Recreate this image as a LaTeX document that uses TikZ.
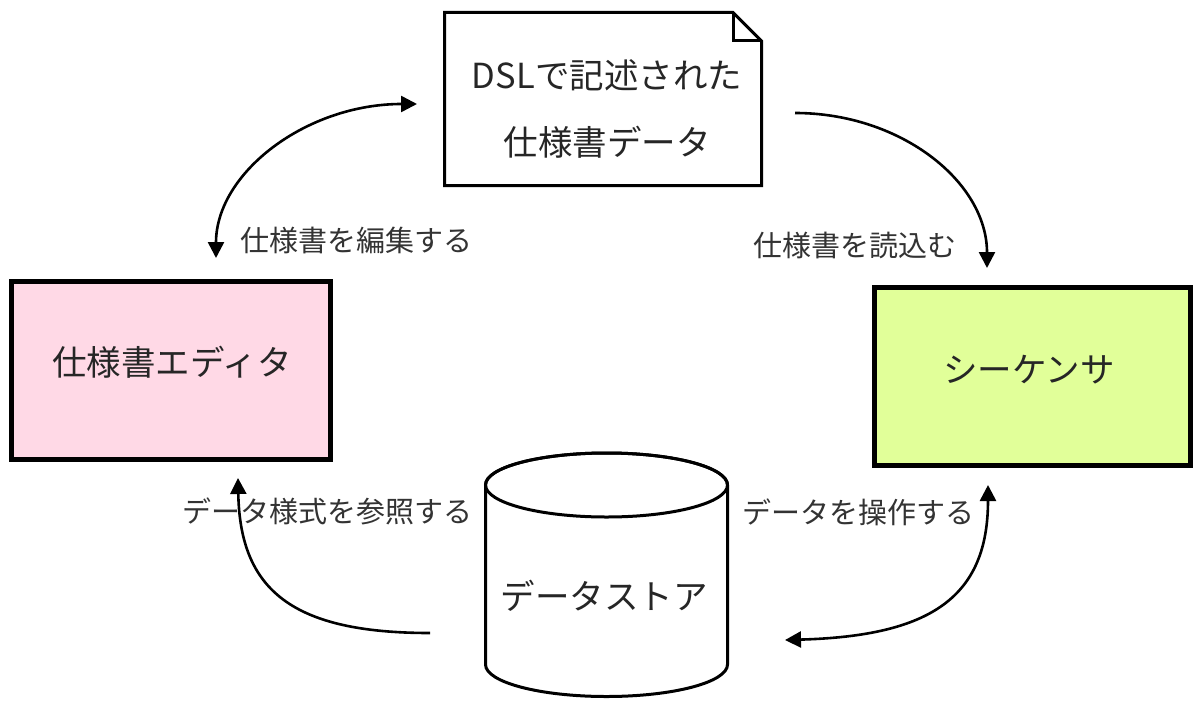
\documentclass[tikz,border=0pt]{standalone}
\usepackage{fontspec}
\setmainfont{Noto Sans CJK JP}
\usetikzlibrary{arrows.meta}
\definecolor{pinkfill}{HTML}{FFD9E6}
\definecolor{greenfill}{HTML}{E1FF99}
\definecolor{txt}{HTML}{262626}
\definecolor{lbl}{HTML}{333333}
\begin{document}
\begin{tikzpicture}[x=1pt,y=-1pt,
  box/.style={draw=black, line width=5pt, inner sep=0pt},
  maintext/.style={font=\fontsize{34.5}{67}\selectfont, text=txt, align=center, inner sep=0pt},
  lbltext/.style={font=\fontsize{29}{35}\selectfont, text=lbl, inner sep=0pt},
  tip/.tip={Triangle[length=16pt,width=16pt]},
  conn/.style={line width=2.6pt, -tip},
  connboth/.style={line width=2.6pt, tip-tip},
  shapeline/.style={draw=black, line width=3pt, line join=miter}
]
\useasboundingbox (0,0) rectangle (1193,701);

% boxes
\node[box, fill=pinkfill, minimum width=319pt, minimum height=178pt] (editor) at (171,370.5) {};
\node[maintext] (editortext) at (172,362) {仕様書エディタ};

\node[box, fill=greenfill, minimum width=316pt, minimum height=178pt] (seq) at (1032.5,376.5) {};
\node[maintext] (seqtext) at (1029,370) {シーケンサ};

% document
\draw[shapeline, fill=white] (444.5,12.5) -- (733,12.5) -- (761.5,41) -- (761.5,185.5) -- (444.5,185.5) -- cycle;
\draw[shapeline] (733,12.5) -- (733,41) -- (761.5,41);
\node[maintext] (doc) at (607,109) {DSLで記述された\\仕様書データ};

% cylinder
\draw[shapeline, fill=white] (485.5,485) -- (485.5,664.5)
  arc[start angle=180, end angle=0, x radius=121, y radius=32]
  -- (727.5,485)
  arc[start angle=0, end angle=-180, x radius=121, y radius=32] -- cycle;
\draw[shapeline] (606.5,485) ellipse[x radius=121, y radius=32];
\node[maintext] (store) at (604,596) {データストア};

% connectors
\coordinate (a1s) at (216,258);
\coordinate (a1e) at (417,104);
\draw[connboth] (a1s) .. controls (216,173) and (306,104) .. (a1e);

\coordinate (a2s) at (795,113);
\coordinate (a2e) at (987,268);
\draw[conn] (a2s) .. controls (901,113) and (987,182) .. (a2e);

\coordinate (a3s) at (430,633);
\coordinate (a3e) at (238,478);
\draw[conn] (a3s) .. controls (292,633) and (240,590) .. (a3e);

\coordinate (a4s) at (988,485);
\coordinate (a4e) at (785,640);
\draw[connboth] (a4s) .. controls (988,597) and (931,636) .. (a4e);

% labels
\node[lbltext] (l1) at (356,240) {仕様書を編集する};
\node[lbltext] (l2) at (855,245) {仕様書を読込む};
\node[lbltext] (l3) at (327,511) {データ様式を参照する};
\node[lbltext] (l4) at (858,512) {データを操作する};
\end{tikzpicture}
\end{document}
